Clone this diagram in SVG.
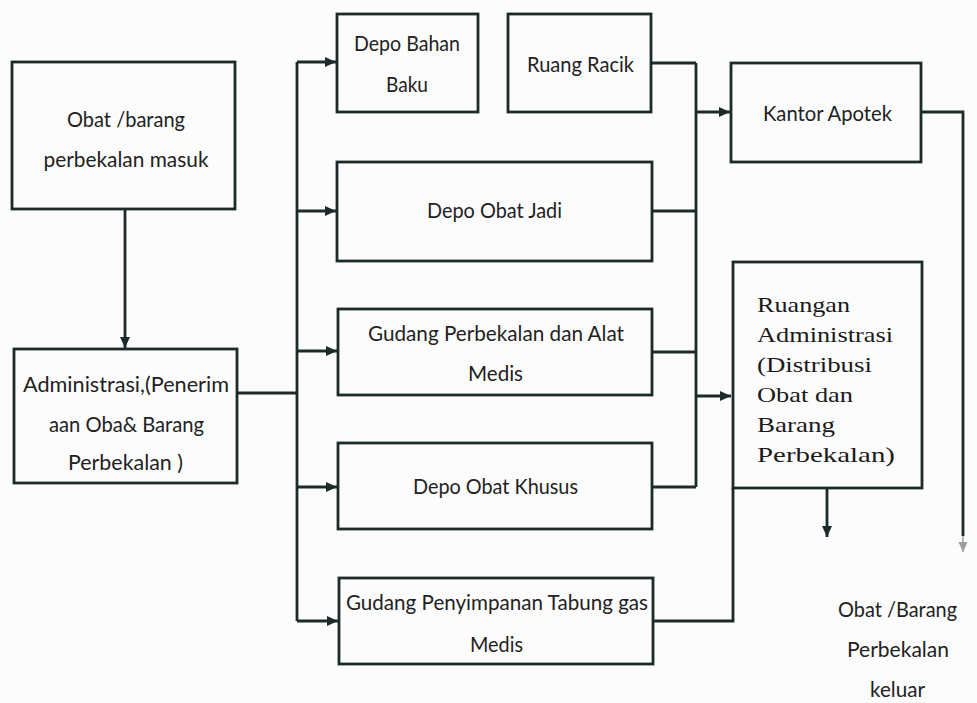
<svg xmlns="http://www.w3.org/2000/svg" width="977" height="703" viewBox="0 0 977 703">
  <style>
    .box { fill: none; stroke: #1c2b2a; stroke-width: 2.8; }
    .wire { fill: none; stroke: #1c2b2a; stroke-width: 2.8; }
    .lbl { font-family: Lato, "Liberation Sans", sans-serif; font-size: 21px; fill: #222; text-anchor: middle; }
    .ser { font-family: "Liberation Serif", "DejaVu Serif", serif; font-size: 21px; fill: #1a1a1a; }
  </style>
  <defs>
    <marker id="arrow" markerUnits="userSpaceOnUse" markerWidth="12" markerHeight="11" refX="11" refY="5" orient="auto">
      <path d="M0,0 L11,5 L0,10 z" fill="#1c2b2a"/>
    </marker>
    <marker id="arrowFaint" markerUnits="userSpaceOnUse" markerWidth="11" markerHeight="10" refX="10" refY="4.5" orient="auto">
      <path d="M0,0 L10,4.5 L0,9 z" fill="#9a9e9d"/>
    </marker>
  </defs>

  <rect width="977" height="703" fill="#fcfcfc"/>

  <!-- connectors -->
  <g id="connectors">
    <path class="wire" d="M125,209 V348" marker-end="url(#arrow)"/>
    <path class="wire" d="M237,393 H297"/>
    <path class="wire" d="M297,62 V621"/>
    <path class="wire" d="M297,62 H336" marker-end="url(#arrow)"/>
    <path class="wire" d="M297,211 H336" marker-end="url(#arrow)"/>
    <path class="wire" d="M297,351 H337" marker-end="url(#arrow)"/>
    <path class="wire" d="M297,487 H337" marker-end="url(#arrow)"/>
    <path class="wire" d="M297,621 H338" marker-end="url(#arrow)"/>
    <path class="wire" d="M651,63 H696"/>
    <path class="wire" d="M652,211 H696"/>
    <path class="wire" d="M652,352 H696"/>
    <path class="wire" d="M652,487 H696"/>
    <path class="wire" d="M696,63 V487"/>
    <path class="wire" d="M696,112 H730" marker-end="url(#arrow)"/>
    <path class="wire" d="M696,396 H731" marker-end="url(#arrow)"/>
    <path class="wire" d="M653,621 H733 V488"/>
    <path class="wire" d="M921,112 H963 V536"/>
    <path d="M963,536 V552" fill="none" stroke="#b5b8b7" stroke-width="2" marker-end="url(#arrowFaint)"/>
    <path class="wire" d="M827,488 V537" marker-end="url(#arrow)"/>
  </g>

  <!-- incoming goods -->
  <g id="masuk">
    <rect class="box" x="12" y="62" width="223" height="147"/>
    <text class="lbl" x="126" y="127" textLength="118" lengthAdjust="spacingAndGlyphs">Obat /barang</text>
    <text class="lbl" x="126" y="167" textLength="165" lengthAdjust="spacingAndGlyphs">perbekalan masuk</text>
  </g>

  <!-- receiving administration -->
  <g id="administrasi">
    <rect class="box" x="14" y="349" width="223" height="134"/>
    <text class="lbl" x="126" y="392" textLength="206" lengthAdjust="spacingAndGlyphs">Administrasi,(Penerim</text>
    <text class="lbl" x="126.5" y="432" textLength="155" lengthAdjust="spacingAndGlyphs">aan Oba&amp; Barang</text>
    <text class="lbl" x="125.5" y="470" textLength="115" lengthAdjust="spacingAndGlyphs">Perbekalan )</text>
  </g>

  <g id="depo-bahan-baku">
    <rect class="box" x="337" y="14" width="141" height="98"/>
    <text class="lbl" x="407" y="51" textLength="106" lengthAdjust="spacingAndGlyphs">Depo Bahan</text>
    <text class="lbl" x="407" y="92" textLength="42" lengthAdjust="spacingAndGlyphs">Baku</text>
  </g>

  <g id="ruang-racik">
    <rect class="box" x="508" y="14" width="143" height="98"/>
    <text class="lbl" x="580.5" y="72" textLength="107" lengthAdjust="spacingAndGlyphs">Ruang Racik</text>
  </g>

  <g id="depo-obat-jadi">
    <rect class="box" x="337" y="162" width="315" height="99"/>
    <text class="lbl" x="494.5" y="218" textLength="135" lengthAdjust="spacingAndGlyphs">Depo Obat Jadi</text>
  </g>

  <g id="gudang-perbekalan">
    <rect class="box" x="338" y="309" width="314" height="86"/>
    <text class="lbl" x="496" y="341" textLength="256" lengthAdjust="spacingAndGlyphs">Gudang Perbekalan dan Alat</text>
    <text class="lbl" x="495.5" y="381" textLength="55" lengthAdjust="spacingAndGlyphs">Medis</text>
  </g>

  <g id="depo-obat-khusus">
    <rect class="box" x="338" y="443" width="314" height="86"/>
    <text class="lbl" x="495.5" y="494" textLength="165" lengthAdjust="spacingAndGlyphs">Depo Obat Khusus</text>
  </g>

  <g id="gudang-tabung-gas">
    <rect class="box" x="339" y="578" width="314" height="86"/>
    <text class="lbl" x="497" y="610" textLength="302" lengthAdjust="spacingAndGlyphs">Gudang Penyimpanan Tabung gas</text>
    <text class="lbl" x="496.5" y="652" textLength="53" lengthAdjust="spacingAndGlyphs">Medis</text>
  </g>

  <g id="kantor-apotek">
    <rect class="box" x="731" y="63" width="190" height="99"/>
    <text class="lbl" x="827.5" y="121" textLength="129" lengthAdjust="spacingAndGlyphs">Kantor Apotek</text>
  </g>

  <g id="ruangan-administrasi">
    <rect class="box" x="733" y="262" width="189" height="226"/>
    <text class="ser" x="757" y="312" textLength="93" lengthAdjust="spacingAndGlyphs">Ruangan</text>
    <text class="ser" x="757" y="342" textLength="136" lengthAdjust="spacingAndGlyphs">Administrasi</text>
    <text class="ser" x="757" y="372" textLength="115" lengthAdjust="spacingAndGlyphs">(Distribusi</text>
    <text class="ser" x="757" y="402" textLength="96" lengthAdjust="spacingAndGlyphs">Obat dan</text>
    <text class="ser" x="757" y="432" textLength="78" lengthAdjust="spacingAndGlyphs">Barang</text>
    <text class="ser" x="757" y="462" textLength="138" lengthAdjust="spacingAndGlyphs">Perbekalan)</text>
  </g>

  <!-- outgoing goods -->
  <g id="keluar">
    <text class="lbl" x="897.5" y="617" textLength="119" lengthAdjust="spacingAndGlyphs">Obat /Barang</text>
    <text class="lbl" x="898" y="657" textLength="102" lengthAdjust="spacingAndGlyphs">Perbekalan</text>
    <text class="lbl" x="897.5" y="697" textLength="55" lengthAdjust="spacingAndGlyphs">keluar</text>
  </g>
</svg>
